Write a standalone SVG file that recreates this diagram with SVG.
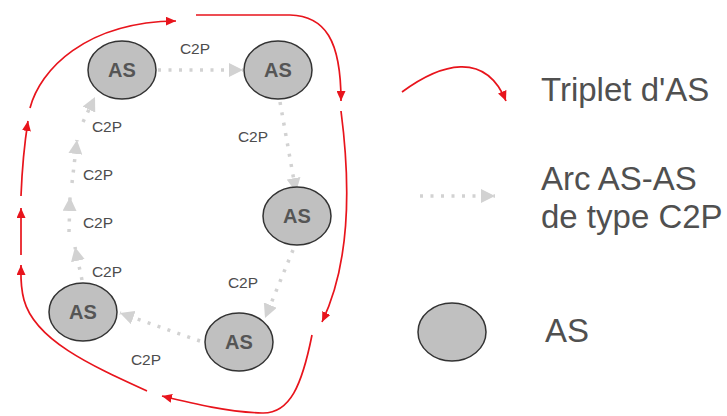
<svg xmlns="http://www.w3.org/2000/svg" width="727" height="416" viewBox="0 0 727 416">
<style>
.node{fill:#c0c0c0;stroke:#333;stroke-width:1.5}
.nt{font-family:"Liberation Sans",Arial,sans-serif;font-size:20px;font-weight:bold;fill:#555;text-anchor:middle}
.lbl{font-family:"Liberation Sans",Arial,sans-serif;font-size:15.5px;fill:#4d4d4d;text-anchor:middle}
.leg{font-family:"Liberation Sans",Arial,sans-serif;font-size:33px;fill:#505050}
.red{fill:none;stroke:#e8141c;stroke-width:1.7;marker-end:url(#ra)}
.dot{fill:none;stroke:#d2d2d2;stroke-width:3.5;stroke-dasharray:3 7.5;marker-end:url(#ga)}
</style>
<defs>
<marker id="ra" markerUnits="userSpaceOnUse" markerWidth="11" markerHeight="9" refX="10" refY="4.5" orient="auto">
<path d="M0,0 L10,4.5 L0,9 z" fill="#e8141c"/>
</marker>
<marker id="ga" markerUnits="userSpaceOnUse" markerWidth="15" markerHeight="14" refX="14" refY="7" orient="auto">
<path d="M0,0 L14,7 L0,14 z" fill="#d2d2d2"/>
</marker>
</defs>
<rect width="727" height="416" fill="#fff"/>
<g id="connectors">
<path class="red" d="M21,255 L21,208"/>
<path class="red" d="M21,196 C22,170 25,140 28,121"/>
<path class="red" d="M30,108 C40,70 85,22 176,21"/>
<path class="red" d="M196,15 L290,15 C325,16 341,40 341,101"/>
<path class="red" d="M341,111 C350,180 352,260 322,322"/>
<path class="red" d="M312,335 C302,385 290,414 262,413 C228,412 195,404 162,396"/>
<path class="red" d="M147,391 C90,365 35,340 24,300 C20,285 21,275 21,265"/>
<path class="dot" d="M158,70 L243,70"/>
<path class="dot" d="M280,102 L296,192"/>
<path class="dot" d="M293,250 L265,318"/>
<path class="dot" d="M200,341 L120,313"/>
<path class="dot" d="M82,280 L75,247"/>
<path class="dot" d="M69,232 L70,197"/>
<path class="dot" d="M72,183 L77,140"/>
<path class="dot" d="M83,122 L95,97"/>
<text class="lbl" x="195" y="54">C2P</text>
<text class="lbl" x="253" y="142">C2P</text>
<text class="lbl" x="243" y="288">C2P</text>
<text class="lbl" x="146" y="365">C2P</text>
<text class="lbl" x="107" y="132">C2P</text>
<text class="lbl" x="98" y="180">C2P</text>
<text class="lbl" x="98" y="228">C2P</text>
<text class="lbl" x="107" y="277">C2P</text>
</g>
<g id="n1"><ellipse class="node" cx="122" cy="70" rx="34" ry="29"/><text class="nt" x="122" y="77">AS</text></g>
<g id="n2"><ellipse class="node" cx="278" cy="70" rx="34" ry="29"/><text class="nt" x="278" y="77">AS</text></g>
<g id="n3"><ellipse class="node" cx="297" cy="216" rx="34" ry="29"/><text class="nt" x="297" y="223">AS</text></g>
<g id="n4"><ellipse class="node" cx="239" cy="342" rx="34" ry="29"/><text class="nt" x="239" y="349">AS</text></g>
<g id="n5"><ellipse class="node" cx="83" cy="312" rx="34" ry="29"/><text class="nt" x="83" y="319">AS</text></g>
<g id="legend">
<path class="red" d="M402,92 C440,64 485,50 506,101"/>
<text class="leg" x="541" y="101">Triplet d'AS</text>
<path class="dot" d="M420,196 L495,196"/>
<text class="leg" x="541" y="190">Arc AS-AS</text>
<text class="leg" x="541" y="228">de type C2P</text>
<ellipse class="node" cx="452" cy="332" rx="34" ry="29"/>
<text class="leg" x="545" y="342">AS</text>
</g>
</svg>
